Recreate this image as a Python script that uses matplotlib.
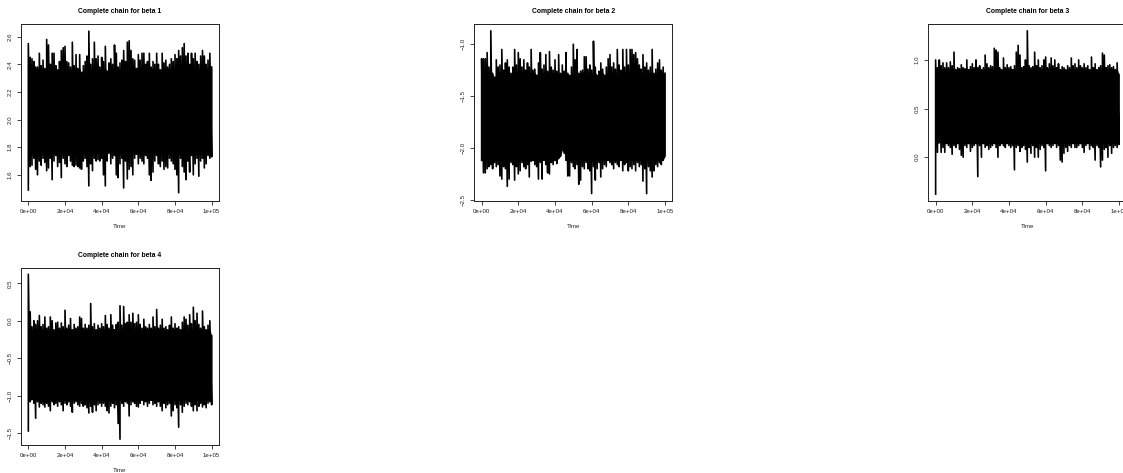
import numpy as np
import matplotlib
matplotlib.use("Agg")
import matplotlib.pyplot as plt

plt.rcParams['font.family'] = ['Liberation Sans', 'DejaVu Sans']

# iteration number, one pair of readings per 1000 iterations
time = np.arange(0, 100001, 1000)

# upper and lower edge of each trace
beta1_hi = [2.55,2.45,2.44,2.42,2.38,2.38,2.48,2.39,2.43,2.37,2.58,
            2.54,2.40,2.48,2.48,2.39,2.36,2.42,2.50,2.52,2.53,
            2.42,2.41,2.38,2.56,2.39,2.47,2.37,2.47,2.34,2.39,
            2.42,2.46,2.64,2.40,2.44,2.56,2.44,2.46,2.38,2.45,
            2.42,2.53,2.35,2.41,2.44,2.40,2.54,2.48,2.38,2.41,
            2.43,2.50,2.42,2.56,2.57,2.50,2.44,2.43,2.37,2.47,
            2.43,2.48,2.48,2.40,2.42,2.48,2.38,2.42,2.40,2.48,
            2.40,2.36,2.48,2.41,2.43,2.38,2.40,2.44,2.42,2.47,
            2.44,2.50,2.46,2.52,2.55,2.46,2.48,2.40,2.48,2.44,
            2.48,2.42,2.40,2.46,2.50,2.46,2.40,2.43,2.48,2.38]
beta1_lo = [1.49,1.66,1.67,1.72,1.64,1.60,1.70,1.67,1.72,1.69,1.63,
            1.65,1.72,1.565,1.70,1.74,1.66,1.69,1.58,1.72,1.68,
            1.66,1.74,1.70,1.67,1.66,1.67,1.66,1.65,1.64,1.70,
            1.72,1.66,1.52,1.68,1.63,1.72,1.70,1.71,1.70,1.72,
            1.60,1.52,1.70,1.76,1.68,1.72,1.74,1.60,1.58,1.68,
            1.72,1.505,1.70,1.57,1.64,1.66,1.60,1.72,1.75,1.68,
            1.72,1.70,1.68,1.74,1.72,1.60,1.56,1.62,1.70,1.74,
            1.68,1.66,1.70,1.64,1.66,1.65,1.72,1.70,1.68,1.64,
            1.60,1.47,1.72,1.66,1.62,1.565,1.70,1.62,1.74,1.60,
            1.68,1.72,1.59,1.70,1.72,1.65,1.68,1.74,1.72,1.73]
beta1_core = (1.75, 2.37)

beta2_hi = [-1.14,-1.14,-1.14,-1.08,-1.22,-0.87,-1.28,-1.32,-1.15,-1.22,-1.20,
            -1.05,-1.25,-1.18,-1.15,-1.22,-1.28,-1.22,-1.05,-1.20,-1.08,
            -1.14,-1.22,-1.15,-1.25,-1.18,-1.22,-1.05,-1.25,-1.24,-1.30,
            -1.18,-1.08,-1.24,-1.20,-1.10,-1.26,-1.07,-1.22,-1.25,-1.15,
            -1.26,-1.10,-1.28,-1.20,-1.26,-1.08,-1.28,-1.30,-1.22,-1.00,
            -1.15,-1.05,-1.28,-1.26,-1.25,-1.12,-1.12,-1.24,-1.20,-1.25,
            -0.97,-1.22,-1.30,-1.26,-1.18,-1.24,-1.30,-1.22,-1.14,-1.10,
            -1.22,-1.18,-1.24,-1.05,-1.20,-1.25,-1.05,-1.22,-1.05,-1.20,
            -1.05,-1.05,-1.10,-1.08,-1.14,-1.20,-1.24,-1.10,-1.22,-1.18,
            -1.25,-1.22,-1.05,-1.28,-1.24,-1.18,-1.15,-1.25,-1.22,-1.28]
beta2_lo = [-2.12,-2.24,-2.24,-2.20,-2.18,-2.16,-2.20,-2.14,-2.18,-2.16,-2.27,
            -2.30,-2.18,-2.20,-2.37,-2.30,-2.14,-2.16,-2.31,-2.18,-2.25,
            -2.22,-2.14,-2.18,-2.20,-2.16,-2.28,-2.13,-2.12,-2.16,-2.18,
            -2.30,-2.14,-2.30,-2.12,-2.16,-2.24,-2.25,-2.14,-2.16,-2.12,
            -2.15,-2.10,-2.08,-2.02,-2.05,-2.12,-2.27,-2.27,-2.14,-2.18,
            -2.20,-2.16,-2.35,-2.31,-2.18,-2.20,-2.14,-2.20,-2.22,-2.44,
            -2.18,-2.31,-2.20,-2.14,-2.28,-2.20,-2.16,-2.18,-2.12,-2.14,
            -2.16,-2.20,-2.14,-2.16,-2.18,-2.12,-2.22,-2.16,-2.14,-2.22,
            -2.18,-2.20,-2.16,-2.22,-2.14,-2.18,-2.16,-2.32,-2.20,-2.44,
            -2.18,-2.22,-2.28,-2.22,-2.16,-2.18,-2.14,-2.16,-2.12,-2.08]
beta2_core = (-2.12, -1.27)

beta3_hi = [1.00,0.92,1.00,0.94,0.97,0.92,0.97,0.92,0.98,0.94,1.08,
            0.90,0.92,0.91,0.95,0.92,0.91,1.00,0.90,0.93,0.96,
            0.92,1.00,0.92,0.94,0.90,0.92,1.05,0.96,0.92,0.94,
            0.93,1.12,1.10,1.08,0.92,0.90,1.02,0.92,0.95,0.92,
            0.93,0.90,0.94,1.08,1.15,1.05,0.92,0.93,1.00,1.30,
            0.94,0.92,0.93,1.08,0.94,1.00,0.92,0.94,1.00,1.03,
            0.92,0.96,1.02,0.94,1.00,0.92,0.96,0.90,0.93,0.92,
            0.90,0.94,0.92,1.02,0.94,0.96,0.92,1.00,0.94,0.92,
            0.96,0.92,0.94,0.90,1.03,0.92,0.96,0.90,0.92,0.94,
            1.07,1.05,0.92,0.94,0.95,0.92,0.93,0.90,0.97,0.85]
beta3_lo = [-0.38,0.05,0.15,0.05,0.10,0.05,0.14,0.12,0.10,0.03,0.12,
            0.10,0.14,0.08,0.02,0.00,0.12,0.10,0.14,0.06,0.10,
            0.12,0.14,-0.20,0.12,0.00,0.14,0.10,0.12,0.08,0.10,
            0.12,0.14,0.10,0.00,0.12,0.14,0.12,0.10,0.14,0.12,
            0.10,0.12,-0.13,0.10,0.12,0.06,0.10,0.12,0.08,-0.05,
            0.10,0.04,0.12,0.00,0.10,0.00,0.08,0.12,0.10,-0.14,
            0.14,0.12,0.10,0.12,0.14,0.10,0.12,-0.03,-0.05,0.04,
            0.10,0.06,0.12,0.10,0.14,0.10,0.10,0.12,0.14,0.10,
            0.05,0.12,0.14,0.08,0.12,0.10,-0.03,0.12,0.10,-0.10,
            -0.03,0.08,0.10,0.00,0.12,0.04,0.10,0.12,0.10,0.13]
beta3_core = (0.14, 0.91)

beta4_hi = [0.62,0.12,-0.08,0.00,-0.05,0.00,0.07,-0.08,-0.05,0.05,-0.10,
            -0.08,0.05,0.00,-0.12,-0.03,-0.02,-0.10,-0.03,-0.08,0.14,
            -0.10,-0.06,0.03,-0.12,-0.05,-0.10,-0.08,0.05,0.03,-0.10,
            -0.05,-0.10,-0.06,0.23,-0.08,-0.04,-0.12,-0.06,-0.10,-0.04,
            -0.08,0.07,-0.05,-0.10,0.08,-0.06,-0.12,-0.05,-0.02,0.20,
            -0.06,0.19,-0.04,-0.02,0.08,-0.02,0.10,-0.04,-0.02,0.08,
            -0.05,-0.10,0.02,-0.08,-0.10,-0.05,-0.10,0.05,-0.08,0.15,
            -0.10,-0.06,0.02,-0.10,-0.08,-0.12,-0.06,0.05,-0.10,-0.04,
            -0.10,-0.08,-0.12,-0.02,0.05,0.02,-0.06,0.08,-0.04,0.18,
            0.00,0.10,-0.05,-0.10,0.13,-0.08,-0.12,-0.06,0.00,-0.20]
beta4_lo = [-1.47,-1.08,-1.05,-1.10,-1.30,-1.08,-1.15,-1.10,-1.12,-1.15,-1.10,
            -1.14,-1.20,-1.08,-1.12,-1.10,-1.14,-1.08,-1.12,-1.20,-1.10,
            -1.12,-1.08,-1.14,-1.22,-1.10,-1.08,-1.12,-1.14,-1.10,-1.14,
            -1.12,-1.16,-1.23,-1.14,-1.22,-1.12,-1.20,-1.12,-1.10,-1.14,
            -1.10,-1.14,-1.20,-1.23,-1.14,-1.10,-1.16,-1.12,-1.37,-1.58,
            -1.10,-1.14,-1.08,-1.10,-1.27,-1.12,-1.08,-1.10,-1.14,-1.15,
            -1.10,-1.06,-1.12,-1.08,-1.14,-1.10,-1.06,-1.12,-1.10,-1.14,
            -1.08,-1.14,-1.20,-1.10,-1.16,-1.12,-1.10,-1.27,-1.20,-1.12,
            -1.16,-1.42,-1.12,-1.22,-1.14,-1.10,-1.12,-1.08,-1.14,-1.20,
            -1.12,-1.20,-1.14,-1.10,-1.15,-1.12,-1.16,-1.10,-1.08,-1.12]
beta4_core = (-1.06, -0.11)

x_ticks = [0, 20000, 40000, 60000, 80000, 100000]
x_labels = ["0e+00", "2e+04", "4e+04", "6e+04", "8e+04", "1e+05"]

W, H = 1123, 473
fig = plt.figure(figsize=(W / 100, H / 100), dpi=100)


def panel(left, top, n, hi, lo, core, ylim, yticks):
    # box is 198 x 176.5 px, the third one runs off the right edge
    ax = fig.add_axes([left / W, 1 - (top + 176.5) / H, 198 / W, 176.5 / H])
    x = np.repeat(time, 2)
    y = np.column_stack([lo, hi]).ravel()
    # solid middle of the chain, then the spikes on top of it
    ax.fill_between(time, np.maximum(lo, core[0]), np.minimum(hi, core[1]), color='black', lw=0)
    ax.plot(x, y, color='black', lw=1.2, solid_joinstyle='round')
    ax.set_xlim(-4000, 104000)
    ax.set_ylim(*ylim)
    ax.set_xticks(x_ticks, x_labels)
    ax.set_yticks(yticks, [f"{v:.1f}".replace("-", "\u2212") for v in yticks])
    ax.tick_params(axis='both', length=2.6, width=0.6, labelsize=4.4, pad=3.5,
                   colors='#222222')
    plt.setp(ax.get_yticklabels(), rotation=90, va='center')
    for s in ax.spines.values():
        s.set_linewidth(0.7)
        s.set_edgecolor('#222222')
    ax.set_title(f"Complete chain for beta {n}", fontsize=4.9, fontweight='bold', pad=8.2)
    ax.set_xlabel("Time", fontsize=4.4, labelpad=7, color='#222222')


panel(21, 24, 1, beta1_hi, beta1_lo, beta1_core, (1.414, 2.692), [1.6, 1.8, 2.0, 2.2, 2.4, 2.6])
panel(474.3, 24, 2, beta2_hi, beta2_lo, beta2_core, (-2.507, -0.804), [-2.5, -2.0, -1.5, -1.0])
panel(928.3, 24, 3, beta3_hi, beta3_lo, beta3_core, (-0.446, 1.37), [0.0, 0.5, 1.0])
panel(21, 268.3, 4, beta4_hi, beta4_lo, beta4_core, (-1.655, 0.70), [-1.5, -1.0, -0.5, 0.0, 0.5])

fig.savefig("out.png", dpi=100)
